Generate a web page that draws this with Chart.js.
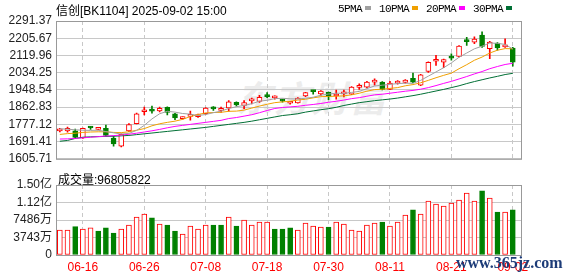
<!DOCTYPE html>
<html>
<head>
<meta charset="utf-8">
<script src="https://cdn.jsdelivr.net/npm/chart.js@4.4.1/dist/chart.umd.min.js"></script>
<style>
  body { margin: 0; background: #fff; width: 578px; height: 276px; position: relative; overflow: hidden; }
  canvas { position: absolute; left: 0; }
  #priceChart { top: 0; }
  #volChart { top: 170px; }
  .txt { position: absolute; white-space: nowrap; color: #000; font: 12px Arial, "Liberation Sans", "Noto Sans CJK SC", sans-serif; }
  .leg { position: absolute; top: 3px; white-space: nowrap; font: 11px "Liberation Mono", monospace; letter-spacing: -0.6px; color: #000; }
  .leg i { display: inline-block; width: 6px; height: 4px; margin: 0 8px 2px 3px; }
  #wm { position: absolute; left: 236px; top: 70px; font: italic bold 36px "Noto Sans CJK SC", sans-serif; color: #ececec; letter-spacing: 2px; }
  #site { position: absolute; left: 456px; top: 254px; font: bold 16px "Liberation Serif", serif; color: #1d3c78; }
</style>
</head>
<body>
<div id="wm">东方财富</div>
<canvas id="priceChart" width="578" height="170"></canvas>
<canvas id="volChart" width="578" height="106"></canvas>
<div class="txt" style="left:56px;top:1px">信创[BK1104] 2025-09-02 15:00</div>
<div class="leg" style="left:338px">5PMA<i style="background:#a0a0a0"></i>10PMA<i style="background:#f0a000"></i>20PMA<i style="background:#ff00ff"></i>30PMA<i style="background:#006f35"></i></div>
<div class="txt" style="left:58px;top:170px">成交量:96805822</div>
<div id="site">www.365jz.com</div>
<script>
const dates = [
  "06-11", "06-12", "06-13", "06-16", "06-17", "06-18", "06-19", "06-20", "06-23", "06-24",
  "06-25", "06-26", "06-27", "06-30", "07-01", "07-02", "07-03", "07-04", "07-07", "07-08",
  "07-09", "07-10", "07-11", "07-14", "07-15", "07-16", "07-17", "07-18", "07-21", "07-22",
  "07-23", "07-24", "07-25", "07-28", "07-29", "07-30", "07-31", "08-01", "08-04", "08-05",
  "08-06", "08-07", "08-08", "08-11", "08-12", "08-13", "08-14", "08-15", "08-18", "08-19",
  "08-20", "08-21", "08-22", "08-25", "08-26", "08-27", "08-28", "08-29", "09-01", "09-02"
];

const opens = [1745, 1744, 1745, 1709, 1762, 1752, 1757, 1709, 1668, 1744, 1781, 1840, 1847, 1844, 1862, 1829, 1806, 1817, 1815, 1830, 1858, 1847, 1859, 1887, 1871, 1894, 1891, 1918, 1909, 1901, 1882, 1884, 1919, 1943, 1929, 1936, 1918, 1929, 1927, 1961, 1962, 1987, 1987, 1951, 1982, 1986, 2006, 1972, 2041, 2091, 2086, 2111, 2115, 2193, 2186, 2221, 2154, 2182, 2163, 2157];
const highs = [1757, 1763, 1753, 1758, 1766, 1762, 1773, 1717, 1730, 1781, 1833, 1863, 1868, 1863, 1864, 1832, 1815, 1843, 1828, 1860, 1866, 1863, 1895, 1889, 1895, 1908, 1922, 1935, 1919, 1903, 1890, 1910, 1937, 1946, 1945, 1938, 1948, 1948, 1965, 1979, 1991, 2003, 1990, 1991, 1995, 2000, 2032, 2026, 2088, 2121, 2102, 2128, 2169, 2210, 2213, 2238, 2190, 2184, 2203, 2160];
const lows = [1740, 1738, 1707, 1707, 1752, 1750, 1717, 1669, 1665, 1741, 1779, 1824, 1833, 1839, 1824, 1800, 1803, 1798, 1812, 1827, 1846, 1836, 1843, 1868, 1855, 1879, 1886, 1910, 1902, 1888, 1878, 1882, 1915, 1927, 1921, 1900, 1903, 1913, 1925, 1951, 1959, 1972, 1948, 1950, 1977, 1982, 1985, 1970, 2035, 2070, 2059, 2096, 2113, 2170, 2178, 2160, 2104, 2146, 2160, 2067];
const closes = [1750, 1757, 1712, 1757, 1759, 1756, 1722, 1680, 1728, 1776, 1829, 1845, 1843, 1857, 1836, 1809, 1812, 1824, 1826, 1858, 1854, 1852, 1889, 1874, 1886, 1900, 1912, 1915, 1913, 1893, 1886, 1908, 1935, 1940, 1943, 1916, 1924, 1934, 1963, 1966, 1987, 1992, 1951, 1982, 1988, 1998, 1987, 2024, 2086, 2097, 2100, 2107, 2167, 2189, 2201, 2165, 2186, 2157, 2168, 2086];

const ma5 = [1755, 1753, 1750, 1748, 1747, 1748, 1741, 1735, 1729, 1732, 1747, 1772, 1804, 1830, 1842, 1838, 1831, 1828, 1821, 1826, 1835, 1843, 1856, 1865, 1871, 1880, 1892, 1897, 1905, 1907, 1904, 1903, 1907, 1912, 1922, 1928, 1932, 1931, 1936, 1941, 1955, 1968, 1972, 1976, 1980, 1982, 1981, 1996, 2017, 2038, 2059, 2083, 2111, 2132, 2153, 2166, 2182, 2180, 2175, 2152];
const ma10 = [1727, 1731, 1733, 1737, 1739, 1740, 1740, 1737, 1736, 1740, 1748, 1756, 1770, 1780, 1787, 1793, 1802, 1816, 1826, 1834, 1836, 1837, 1842, 1843, 1848, 1858, 1868, 1877, 1885, 1889, 1892, 1898, 1902, 1909, 1915, 1916, 1917, 1919, 1924, 1932, 1942, 1950, 1952, 1956, 1960, 1969, 1975, 1984, 1996, 2009, 2021, 2032, 2054, 2074, 2096, 2112, 2132, 2146, 2154, 2153];
const ma20 = [1704, 1705, 1707, 1710, 1713, 1716, 1719, 1721, 1724, 1728, 1733, 1739, 1745, 1752, 1760, 1767, 1772, 1777, 1782, 1787, 1792, 1797, 1806, 1811, 1818, 1825, 1835, 1846, 1856, 1861, 1864, 1867, 1872, 1876, 1881, 1887, 1892, 1898, 1905, 1910, 1917, 1924, 1927, 1932, 1937, 1942, 1946, 1952, 1960, 1970, 1981, 1991, 2003, 2015, 2028, 2040, 2054, 2065, 2075, 2081];
const ma30 = [1693, 1697, 1707, 1713, 1715, 1716, 1717, 1718, 1720, 1722, 1726, 1730, 1734, 1738, 1742, 1746, 1750, 1754, 1758, 1762, 1767, 1772, 1777, 1782, 1787, 1793, 1800, 1807, 1814, 1821, 1825, 1830, 1838, 1844, 1850, 1855, 1862, 1871, 1878, 1885, 1890, 1895, 1899, 1903, 1908, 1914, 1920, 1927, 1935, 1943, 1951, 1960, 1969, 1980, 1990, 1999, 2008, 2016, 2025, 2031];

// volume in 万
const volumes = [5340, 5340, 6052, 5553, 5838, 5126, 5838, 4699, 5553, 6408, 8117, 8757, 7974, 6621, 6408, 5126, 4485, 6194, 5553, 6408, 6408, 6408, 8117, 6194, 7476, 6408, 7049, 7049, 5553, 5553, 5838, 5340, 6835, 6194, 5981, 5981, 7049, 6621, 5340, 5126, 6408, 6835, 7049, 6194, 7049, 8544, 9683, 8757, 11534, 10893, 10466, 11107, 11748, 13242, 11534, 13741, 12174, 9185, 9185, 9681];

const priceTicks = [1605.71, 1691.41, 1777.12, 1862.83, 1948.54, 2034.25, 2119.96, 2205.67, 2291.37];
const volTicks = [0, 3743, 7486, 11229, 14972];
const volTickLabels = ["0", "3743万", "7486万", "1.12亿", "1.50亿"];
const dateTickIdx = [3, 11, 19, 27, 35, 43, 51, 59];

const RED = "#ff0000";
const GREEN = "#008000";
const FONT = 'Arial, "Liberation Sans", "Noto Sans CJK SC", sans-serif';

const idx = closes.map((_, i) => i);
const isUp = idx.map(i => closes[i] >= opens[i]);
const volUp = idx.map(i => i === 0 ? isUp[0] : closes[i] >= closes[i - 1]);

const frame = {
  id: "frame",
  afterDatasetsDraw(chart) {
    const a = chart.chartArea;
    const ctx = chart.ctx;
    ctx.save();
    ctx.strokeStyle = "#999";
    ctx.lineWidth = 1;
    ctx.strokeRect(a.left + 0.5, a.top + 0.5, a.right - a.left - 1, a.bottom - a.top);
    ctx.restore();
  }
};

function xScale(showLabels) {
  return {
    type: "linear",
    min: -0.5,
    max: 60.2,
    offset: false,
    afterBuildTicks: s => { s.ticks = dateTickIdx.map(v => ({ value: v })); },
    afterFit: s => { s.height = showLabels ? 21 : 0; },
    border: { display: false, dash: [4, 3] },
    grid: { color: "#c8c8c8", drawTicks: false, offset: false },
    ticks: {
      display: showLabels,
      autoSkip: false,
      maxRotation: 0,
      padding: 5,
      color: RED,
      font: { family: FONT, size: 12 },
      callback: v => dates[v]
    }
  };
}

function yScale(min, max, ticks, label) {
  return {
    min,
    max,
    afterBuildTicks: s => { s.ticks = ticks.map(v => ({ value: v })); },
    afterFit: s => { s.width = 56; },
    border: { display: false },
    grid: { color: "#c8c8c8", drawTicks: false },
    ticks: {
      padding: 4,
      color: "#222",
      font: { family: FONT, size: 12 },
      callback: label
    }
  };
}

function ma(label, values, color) {
  return {
    type: "line",
    label,
    data: idx.map(i => ({ x: i, y: values[i] })),
    borderColor: color,
    borderWidth: 1,
    pointRadius: 0,
    order: 0
  };
}

new Chart(document.getElementById("priceChart"), {
  type: "bar",
  data: {
    datasets: [
      ma("MA5", ma5, "#a0a0a0"),
      ma("MA10", ma10, "#f0a000"),
      ma("MA20", ma20, "#ff00ff"),
      ma("MA30", ma30, "#006f35"),
      {
        label: "body",
        data: idx.map(i => ({ x: i, y: [opens[i], closes[i]] })),
        backgroundColor: isUp.map(u => u ? "#ffffff" : GREEN),
        borderColor: isUp.map(u => u ? RED : GREEN),
        borderWidth: 1,
        borderSkipped: false,
        barThickness: 5,
        minBarLength: 2,
        grouped: false,
        order: 1
      },
      {
        label: "wick",
        data: idx.map(i => ({ x: i, y: [lows[i], highs[i]] })),
        backgroundColor: isUp.map(u => u ? RED : GREEN),
        barThickness: 1,
        grouped: false,
        order: 2
      }
    ]
  },
  options: {
    responsive: false,
    animation: false,
    layout: { padding: { top: 21, right: 56, bottom: 5, left: 0 } },
    plugins: { legend: { display: false }, tooltip: { enabled: false } },
    scales: {
      x: xScale(false),
      y: yScale(1605.71, 2291.37, priceTicks, v => v.toFixed(2))
    }
  },
  plugins: [frame]
});

new Chart(document.getElementById("volChart"), {
  type: "bar",
  data: {
    datasets: [{
      label: "成交量",
      data: idx.map(i => ({ x: i, y: volumes[i] })),
      backgroundColor: volUp.map(u => u ? "#ffffff" : GREEN),
      borderColor: volUp.map(u => u ? RED : GREEN),
      borderWidth: 1,
      borderSkipped: false,
      barThickness: 5,
      grouped: false
    }]
  },
  options: {
    responsive: false,
    animation: false,
    layout: { padding: { top: 15, right: 56, bottom: 0, left: 0 } },
    plugins: { legend: { display: false }, tooltip: { enabled: false } },
    scales: {
      x: xScale(true),
      y: yScale(0, 14972, volTicks, v => volTickLabels[volTicks.indexOf(v)])
    }
  },
  plugins: [frame]
});
</script>
</body>
</html>
